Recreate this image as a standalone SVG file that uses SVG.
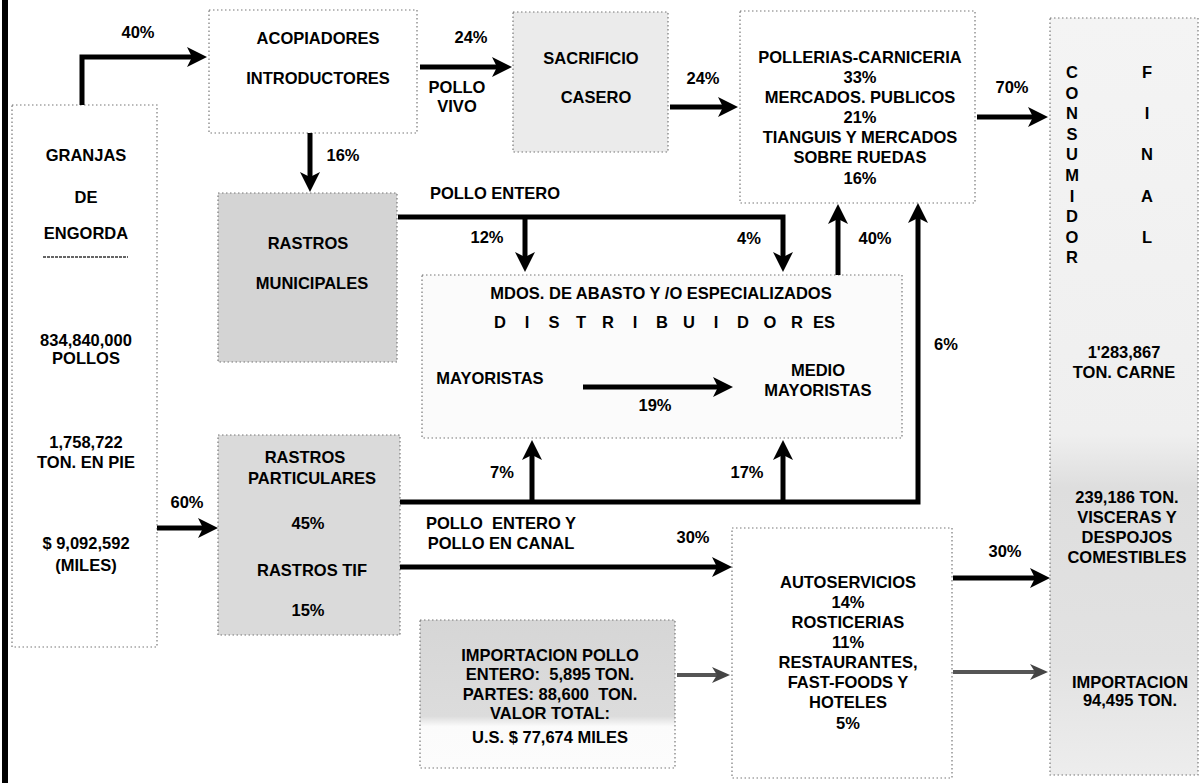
<svg xmlns="http://www.w3.org/2000/svg" width="1202" height="783" viewBox="0 0 1202 783">
<style>
.t{font-family:"Liberation Sans",Arial,sans-serif;font-weight:bold;font-size:16.5px;text-anchor:middle;fill:#000}
.box{stroke:#777;stroke-width:1.2;stroke-dasharray:1.5 2.5}
.c{fill:none;stroke:#000;stroke-width:5}
.g{fill:none;stroke:#555;stroke-width:4}
</style>
<defs>
<marker id="ah" markerUnits="userSpaceOnUse" markerWidth="24" markerHeight="24" refX="10" refY="10" orient="auto">
<path d="M0,0 L20,10 L0,20 L5,10 z" fill="#000"/>
</marker>
<marker id="ahg" markerUnits="userSpaceOnUse" markerWidth="24" markerHeight="24" refX="10" refY="9" orient="auto">
<path d="M0,1 L18,9 L0,17 L5,9 z" fill="#444"/>
</marker>
<linearGradient id="consG" x1="0" y1="0" x2="0" y2="1">
<stop offset="0" stop-color="#f4f4f4"/>
<stop offset="0.55" stop-color="#efefef"/>
<stop offset="0.62" stop-color="#dedede"/>
<stop offset="0.85" stop-color="#e2e2e2"/>
<stop offset="1" stop-color="#ededed"/>
</linearGradient>
<linearGradient id="impG" x1="0" y1="0" x2="0" y2="1">
<stop offset="0" stop-color="#d6d6d6"/>
<stop offset="0.65" stop-color="#dcdcdc"/>
<stop offset="0.72" stop-color="#fbfbfb"/>
<stop offset="1" stop-color="#fcfcfc"/>
</linearGradient>
</defs>
<rect x="0" y="0" width="1202" height="783" fill="#fff"/>
<rect x="2" y="0" width="6" height="783" fill="#000"/>

<g id="granjas">
<rect class="box" x="12" y="105" width="145" height="542" fill="#fff"/>
<text class="t" x="86" y="161">GRANJAS</text>
<text class="t" x="86" y="203">DE</text>
<text class="t" x="86" y="239">ENGORDA</text>
<line x1="43" y1="257" x2="128" y2="257" stroke="#333" stroke-width="1.5" stroke-dasharray="3 1"/>
<text class="t" x="86" y="346">834,840,000</text>
<text class="t" x="86" y="364">POLLOS</text>
<text class="t" x="86" y="448">1,758,722</text>
<text class="t" x="86" y="468">TON. EN PIE</text>
<text class="t" x="86" y="549">$ 9,092,592</text>
<text class="t" x="86" y="571">(MILES)</text>
</g>

<g id="acopiadores">
<rect class="box" x="209" y="10" width="208" height="123" fill="#fff"/>
<text class="t" x="318" y="44">ACOPIADORES</text>
<text class="t" x="318" y="84">INTRODUCTORES</text>
</g>

<g id="sacrificio">
<rect class="box" x="513" y="12" width="155" height="140" fill="#ebebeb"/>
<text class="t" x="591" y="64">SACRIFICIO</text>
<text class="t" x="596" y="103">CASERO</text>
</g>

<g id="pollerias">
<rect class="box" x="740" y="11" width="235" height="192" fill="#fff"/>
<text class="t" x="860" y="63">POLLERIAS-CARNICERIA</text>
<text class="t" x="860" y="83">33%</text>
<text class="t" x="860" y="103">MERCADOS. PUBLICOS</text>
<text class="t" x="860" y="123">21%</text>
<text class="t" x="860" y="143">TIANGUIS Y MERCADOS</text>
<text class="t" x="860" y="163">SOBRE RUEDAS</text>
<text class="t" x="860" y="184">16%</text>
</g>

<g id="consumidor">
<rect class="box" x="1050" y="18" width="148" height="757" fill="url(#consG)"/>
<text class="t" x="1072 1072 1072 1072 1072 1072 1072 1072 1072 1072" y="78 98.6 119.2 139.8 160.4 181 201.6 222.2 242.8 263.4" font-size="15">CONSUMIDOR</text>
<text class="t" x="1147 1147 1147 1147 1147" y="78 119.2 160.4 201.6 242.8" font-size="15">FINAL</text>
<text class="t" x="1124" y="358">1'283,867</text>
<text class="t" x="1124" y="378">TON. CARNE</text>
<text class="t" x="1127" y="503">239,186 TON.</text>
<text class="t" x="1127" y="523">VISCERAS Y</text>
<text class="t" x="1127" y="543">DESPOJOS</text>
<text class="t" x="1127" y="563">COMESTIBLES</text>
<text class="t" x="1130" y="688">IMPORTACION</text>
<text class="t" x="1130" y="706">94,495 TON.</text>
</g>

<g id="rastros-municipales">
<rect class="box" x="218" y="193" width="179" height="169" fill="#d4d4d4"/>
<text class="t" x="308" y="249">RASTROS</text>
<text class="t" x="312" y="289">MUNICIPALES</text>
</g>

<g id="mdos">
<rect class="box" x="422" y="275" width="480" height="163" fill="#fbfbfb"/>
<text class="t" x="661" y="299">MDOS. DE ABASTO Y /O ESPECIALIZADOS</text>
<text class="t" x="500 527 554 581 608 635 662 689 716 743 770 797 824" y="328">DISTRIBUIDORES</text>
<text class="t" x="490" y="384">MAYORISTAS</text>
<text class="t" x="818" y="376">MEDIO</text>
<text class="t" x="818" y="396">MAYORISTAS</text>
</g>

<g id="rastros-particulares">
<rect class="box" x="218" y="435" width="182" height="200" fill="#dadada"/>
<text class="t" x="305" y="463">RASTROS</text>
<text class="t" x="312" y="484">PARTICULARES</text>
<text class="t" x="308" y="529">45%</text>
<text class="t" x="312" y="576">RASTROS TIF</text>
<text class="t" x="308" y="616">15%</text>
</g>

<g id="autoservicios">
<rect class="box" x="732" y="528" width="220" height="250" fill="#fff"/>
<text class="t" x="848" y="588">AUTOSERVICIOS</text>
<text class="t" x="848" y="608">14%</text>
<text class="t" x="848" y="628">ROSTICERIAS</text>
<text class="t" x="848" y="648">11%</text>
<text class="t" x="848" y="668">RESTAURANTES,</text>
<text class="t" x="848" y="688">FAST-FOODS Y</text>
<text class="t" x="848" y="708">HOTELES</text>
<text class="t" x="848" y="729">5%</text>
</g>

<g id="importacion">
<rect class="box" x="420" y="620" width="255" height="148" fill="url(#impG)"/>
<text class="t" x="550" y="661">IMPORTACION POLLO</text>
<text class="t" x="550" y="680" xml:space="preserve">ENTERO:  5,895 TON.</text>
<text class="t" x="550" y="700" xml:space="preserve">PARTES: 88,600  TON.</text>
<text class="t" x="550" y="719">VALOR TOTAL:</text>
<text class="t" x="550" y="743">U.S. $ 77,674 MILES</text>
</g>

<g id="connectors">
<path class="c" d="M82,105 V57 H197" marker-end="url(#ah)"/>
<path class="c" d="M420,67 H502" marker-end="url(#ah)"/>
<path class="c" d="M670,107 H728" marker-end="url(#ah)"/>
<path class="c" d="M977,117 H1038" marker-end="url(#ah)"/>
<path class="c" d="M310,133 V182" marker-end="url(#ah)"/>
<path class="c" d="M398,217 H783 V262" marker-end="url(#ah)"/>
<path class="c" d="M525,217 V262" marker-end="url(#ah)"/>
<path class="c" d="M838,275 V214" marker-end="url(#ah)"/>
<path class="c" d="M400,502 H918 V213" marker-end="url(#ah)"/>
<path class="c" d="M532,502 V450" marker-end="url(#ah)"/>
<path class="c" d="M783,502 V450" marker-end="url(#ah)"/>
<path class="c" d="M583,387 H723" marker-end="url(#ah)"/>
<path class="c" d="M157,528 H208" marker-end="url(#ah)"/>
<path class="c" d="M400,567 H722" marker-end="url(#ah)"/>
<path class="c" d="M953,578 H1040" marker-end="url(#ah)"/>
<path class="g" d="M677,675 H722" marker-end="url(#ahg)"/>
<path class="g" d="M953,672 H1040" marker-end="url(#ahg)"/>
</g>

<g id="labels">
<text class="t" x="138" y="38">40%</text>
<text class="t" x="471" y="43">24%</text>
<text class="t" x="457" y="93">POLLO</text>
<text class="t" x="457" y="112">VIVO</text>
<text class="t" x="703" y="84">24%</text>
<text class="t" x="1012" y="93">70%</text>
<text class="t" x="343" y="161">16%</text>
<text class="t" x="495" y="199">POLLO ENTERO</text>
<text class="t" x="487" y="243">12%</text>
<text class="t" x="749" y="244">4%</text>
<text class="t" x="875" y="244">40%</text>
<text class="t" x="946" y="350">6%</text>
<text class="t" x="655" y="411">19%</text>
<text class="t" x="502" y="478">7%</text>
<text class="t" x="747" y="478">17%</text>
<text class="t" x="187" y="508">60%</text>
<text class="t" x="501" y="529" xml:space="preserve">POLLO  ENTERO Y</text>
<text class="t" x="501" y="549">POLLO EN CANAL</text>
<text class="t" x="693" y="543">30%</text>
<text class="t" x="1005" y="557">30%</text>
</g>
</svg>
